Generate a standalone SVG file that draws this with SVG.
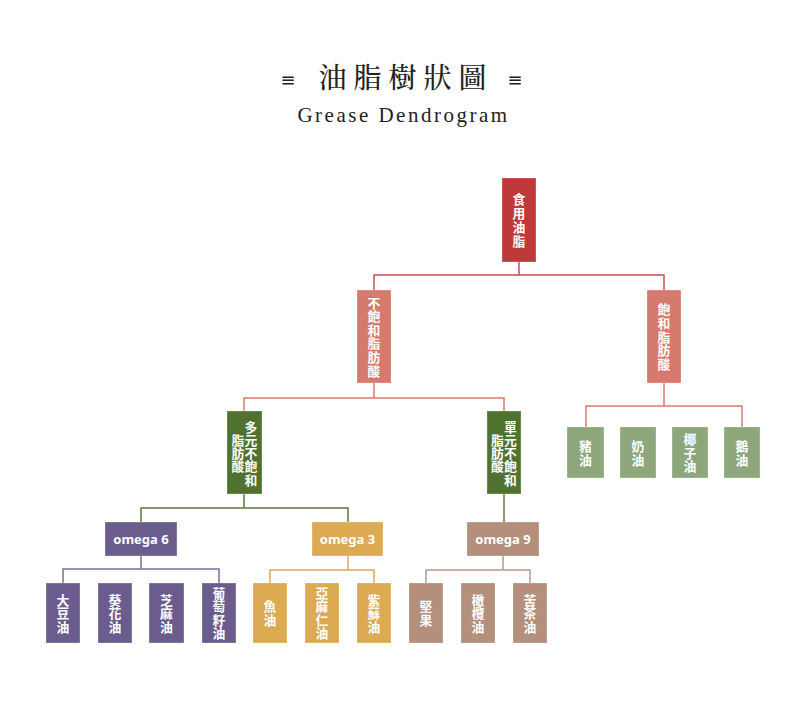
<svg xmlns="http://www.w3.org/2000/svg" width="800" height="713" viewBox="0 0 800 713">
<style>
.bg{fill:#ffffff}
.box{stroke-width:1;stroke:#ffffff;stroke-opacity:0.3}
.zh{font-family:'Noto Sans CJK TC','Noto Sans CJK SC',sans-serif;font-size:12.8px;font-weight:bold;fill:#ffffff;text-anchor:middle}
.en{font-family:'Noto Sans','Open Sans',sans-serif;font-size:13px;font-weight:bold;fill:#ffffff;text-anchor:middle}
.ln{fill:none;stroke-width:1.5}
.c-root{fill:#BE3A3A}
.c-l2{fill:#D57A6D}
.c-gr{fill:#4F7230}
.c-pu{fill:#6A5D8E}
.c-ye{fill:#DCAA52}
.c-br{fill:#B38F7C}
.c-lf{fill:#8DA77B}
</style>
<rect class="bg" x="0" y="0" width="800" height="713"/>
<g id="title">
<text x="406" y="88" text-anchor="middle" font-family="'Noto Serif CJK TC','Noto Sans CJK TC',serif" font-size="28" font-weight="500" letter-spacing="7" fill="#222222">油脂樹狀圖</text>
<text x="288" y="86" text-anchor="middle" font-family="'DejaVu Sans',sans-serif" font-size="18" fill="#222222">≡</text>
<text x="515" y="86" text-anchor="middle" font-family="'DejaVu Sans',sans-serif" font-size="18" fill="#222222">≡</text>
<text x="403.5" y="122" text-anchor="middle" font-family="'Liberation Serif',serif" font-size="21" letter-spacing="2.5" fill="#222222">Grease Dendrogram</text>
</g>
<g id="connectors">
<path class="ln" stroke="#C8504F" d="M519 262V275M374 290V275H664V290"/>
<path class="ln" stroke="#D57A6D" d="M374 383V398M244 411V398H504V411"/>
<path class="ln" stroke="#D57A6D" d="M664 383V406M586 427V406H742V427"/>
<path class="ln" stroke="#5C7A3F" d="M244 494V508M141 522V508H348V522"/>
<path class="ln" stroke="#5C7A3F" d="M504 494V522"/>
<path class="ln" stroke="#7A6E9E" d="M141 556V569M63 583V569H219V583"/>
<path class="ln" stroke="#DCAA52" d="M348 556V570M270 583V570H374V583"/>
<path class="ln" stroke="#B9998A" d="M503 556V570M426 583V570H530V583"/>
</g>
<g id="n-root">
<rect class="box c-root" x="502" y="178" width="34" height="84"/>
<text class="zh"><tspan x="519" y="204">食</tspan><tspan x="519" y="218">用</tspan><tspan x="519" y="232">油</tspan><tspan x="519" y="246">脂</tspan></text>
</g>
<g id="n-unsat">
<rect class="box c-l2" x="357" y="290" width="34" height="93"/>
<text class="zh"><tspan x="374" y="307.5">不</tspan><tspan x="374" y="321.1">飽</tspan><tspan x="374" y="334.7">和</tspan><tspan x="374" y="348.3">脂</tspan><tspan x="374" y="361.9">肪</tspan><tspan x="374" y="375.5">酸</tspan></text>
</g>
<g id="n-sat">
<rect class="box c-l2" x="647" y="290" width="34" height="93"/>
<text class="zh"><tspan x="664" y="314.3">飽</tspan><tspan x="664" y="327.9">和</tspan><tspan x="664" y="341.5">脂</tspan><tspan x="664" y="355.1">肪</tspan><tspan x="664" y="368.7">酸</tspan></text>
</g>
<g id="n-poly">
<rect class="box c-gr" x="227" y="411" width="35" height="83"/>
<text class="zh"><tspan x="251" y="431.5">多</tspan><tspan x="251" y="444.8">元</tspan><tspan x="251" y="458.1">不</tspan><tspan x="251" y="471.4">飽</tspan><tspan x="251" y="484.7">和</tspan></text>
<text class="zh"><tspan x="238" y="444.8">脂</tspan><tspan x="238" y="458.1">肪</tspan><tspan x="238" y="471.4">酸</tspan></text>
</g>
<g id="n-mono">
<rect class="box c-gr" x="487" y="411" width="34" height="83"/>
<text class="zh"><tspan x="510.5" y="431.5">單</tspan><tspan x="510.5" y="444.8">元</tspan><tspan x="510.5" y="458.1">不</tspan><tspan x="510.5" y="471.4">飽</tspan><tspan x="510.5" y="484.7">和</tspan></text>
<text class="zh"><tspan x="497.5" y="444.8">脂</tspan><tspan x="497.5" y="458.1">肪</tspan><tspan x="497.5" y="471.4">酸</tspan></text>
</g>
<g id="n-o6">
<rect class="box c-pu" x="105" y="522" width="72" height="34"/>
<text class="en" x="141" y="543.5">omega 6</text>
</g>
<g id="n-o3">
<rect class="box c-ye" x="312" y="522" width="71" height="34"/>
<text class="en" x="347.5" y="543.5">omega 3</text>
</g>
<g id="n-o9">
<rect class="box c-br" x="467" y="522" width="72" height="34"/>
<text class="en" x="503" y="543.5">omega 9</text>
</g>
<g id="n-lard">
<rect class="box c-lf" x="567" y="427" width="37" height="51"/>
<text class="zh"><tspan x="585.5" y="451">豬</tspan><tspan x="585.5" y="464.5">油</tspan></text>
</g>
<g id="n-butter">
<rect class="box c-lf" x="620" y="427" width="36" height="51"/>
<text class="zh"><tspan x="638" y="451">奶</tspan><tspan x="638" y="464.5">油</tspan></text>
</g>
<g id="n-coconut">
<rect class="box c-lf" x="672" y="427" width="36" height="51"/>
<text class="zh"><tspan x="690" y="444">椰</tspan><tspan x="690" y="457.5">子</tspan><tspan x="690" y="471">油</tspan></text>
</g>
<g id="n-goose">
<rect class="box c-lf" x="724" y="427" width="36" height="51"/>
<text class="zh"><tspan x="742" y="451">鵝</tspan><tspan x="742" y="464.5">油</tspan></text>
</g>
<g id="n-soy">
<rect class="box c-pu" x="46" y="583" width="34" height="60"/>
<text class="zh"><tspan x="63" y="604.5">大</tspan><tspan x="63" y="618">豆</tspan><tspan x="63" y="631.5">油</tspan></text>
</g>
<g id="n-sunflower">
<rect class="box c-pu" x="98" y="583" width="34" height="60"/>
<text class="zh"><tspan x="115" y="604.5">葵</tspan><tspan x="115" y="618">花</tspan><tspan x="115" y="631.5">油</tspan></text>
</g>
<g id="n-sesame">
<rect class="box c-pu" x="149" y="583" width="35" height="60"/>
<text class="zh"><tspan x="166.5" y="604.5">芝</tspan><tspan x="166.5" y="618">麻</tspan><tspan x="166.5" y="631.5">油</tspan></text>
</g>
<g id="n-grapeseed">
<rect class="box c-pu" x="202" y="583" width="34" height="60"/>
<text class="zh"><tspan x="219" y="597.75">葡</tspan><tspan x="219" y="611.25">萄</tspan><tspan x="219" y="624.75">籽</tspan><tspan x="219" y="638.25">油</tspan></text>
</g>
<g id="n-fish">
<rect class="box c-ye" x="253" y="583" width="34" height="60"/>
<text class="zh"><tspan x="270" y="611">魚</tspan><tspan x="270" y="624.5">油</tspan></text>
</g>
<g id="n-linseed">
<rect class="box c-ye" x="305" y="583" width="34" height="60"/>
<text class="zh"><tspan x="322" y="597.75">亞</tspan><tspan x="322" y="611.25">麻</tspan><tspan x="322" y="624.75">仁</tspan><tspan x="322" y="638.25">油</tspan></text>
</g>
<g id="n-perilla">
<rect class="box c-ye" x="357" y="583" width="34" height="60"/>
<text class="zh"><tspan x="374" y="604.5">紫</tspan><tspan x="374" y="618">蘇</tspan><tspan x="374" y="631.5">油</tspan></text>
</g>
<g id="n-nuts">
<rect class="box c-br" x="409" y="583" width="34" height="60"/>
<text class="zh"><tspan x="426" y="611">堅</tspan><tspan x="426" y="624.5">果</tspan></text>
</g>
<g id="n-olive">
<rect class="box c-br" x="461" y="583" width="34" height="60"/>
<text class="zh"><tspan x="478" y="604.5">橄</tspan><tspan x="478" y="618">欖</tspan><tspan x="478" y="631.5">油</tspan></text>
</g>
<g id="n-camellia">
<rect class="box c-br" x="513" y="583" width="34" height="60"/>
<text class="zh"><tspan x="530" y="604.5">苦</tspan><tspan x="530" y="618">茶</tspan><tspan x="530" y="631.5">油</tspan></text>
</g>
</svg>
